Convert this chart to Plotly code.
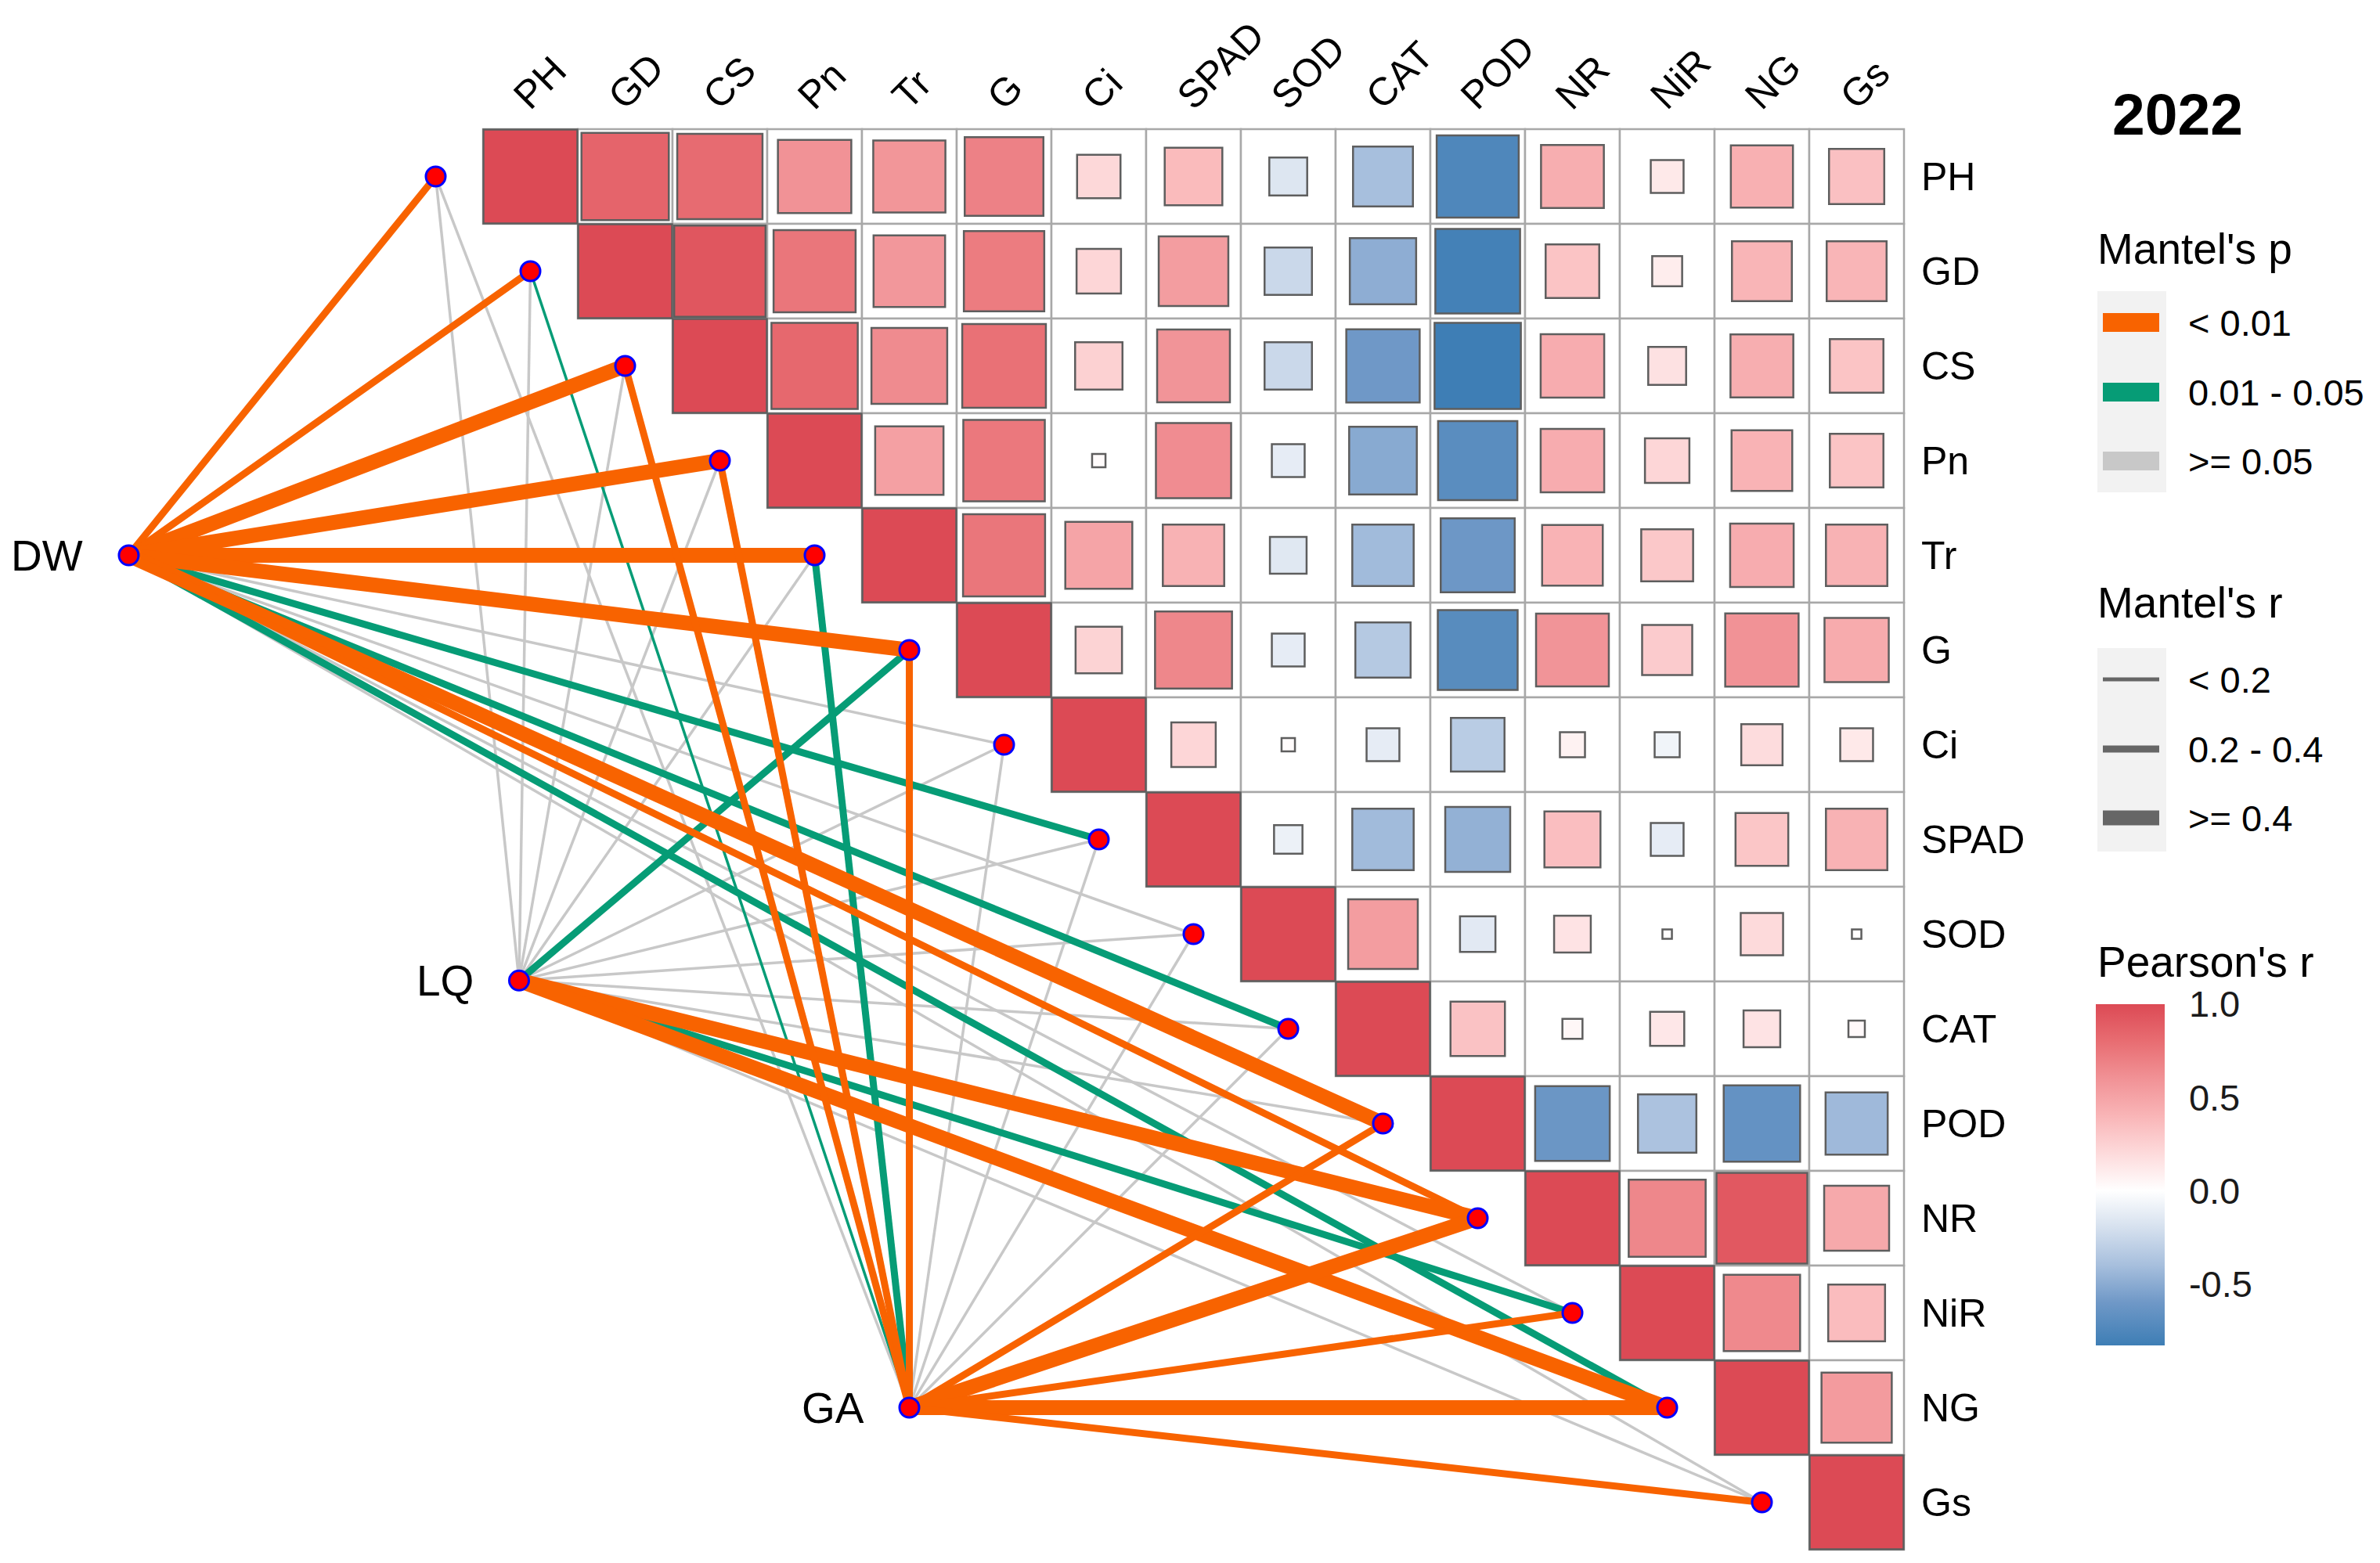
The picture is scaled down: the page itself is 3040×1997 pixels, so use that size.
import numpy as np
import plotly.graph_objects as go

# ---------------- data ----------------
variables = ["PH", "GD", "CS", "Pn", "Tr", "G", "Ci", "SPAD", "SOD", "CAT",
             "POD", "NR", "NiR", "NG", "Gs"]

# Pearson's r, upper triangle: row k lists r with the variables after it
r_PH = [0.85, 0.81, 0.60, 0.58, 0.69, 0.21, 0.37, -0.16, -0.40, -0.75, 0.44, 0.12, 0.43, 0.34]
r_GD = [0.93, 0.75, 0.57, 0.72, 0.22, 0.54, -0.25, -0.49, -0.80, 0.32, 0.10, 0.40, 0.40]
r_CS = [0.83, 0.64, 0.78, 0.25, 0.59, -0.25, -0.60, -0.83, 0.45, 0.16, 0.44, 0.32]
r_Pn = [0.52, 0.74, 0.02, 0.63, -0.12, -0.51, -0.70, 0.45, 0.22, 0.41, 0.32]
r_Tr = [0.75, 0.50, 0.42, -0.15, -0.42, -0.61, 0.41, 0.30, 0.45, 0.42]
r_G = [0.24, 0.66, -0.12, -0.34, -0.71, 0.59, 0.28, 0.60, 0.46]
r_Ci = [0.22, 0.02, -0.12, -0.32, 0.07, -0.07, 0.19, 0.12]
r_SPAD = [-0.09, -0.42, -0.47, 0.35, -0.12, 0.31, 0.42]
r_SOD = [0.54, -0.14, 0.15, 0.01, 0.20, 0.01]
r_CAT = [0.33, 0.045, 0.13, 0.15, 0.03]
r_POD = [-0.62, -0.38, -0.65, -0.43]
r_NR = [0.66, 0.92, 0.47]
r_NiR = [0.65, 0.36]
r_NG = [0.55]
upper_rows = [r_PH, r_GD, r_CS, r_Pn, r_Tr, r_G, r_Ci, r_SPAD, r_SOD, r_CAT,
              r_POD, r_NR, r_NiR, r_NG]

env_vars = ["DW", "LQ", "GA"]
# Mantel's r / p of each environmental variable with each variable above
mantel_r_DW = [0.32, 0.30, 0.45, 0.47, 0.48, 0.46, 0.08, 0.28, 0.10, 0.26, 0.44, 0.33, 0.12, 0.27, 0.09]
mantel_p_DW = [0.001, 0.002, 0.001, 0.001, 0.001, 0.001, 0.21, 0.02, 0.15, 0.03, 0.001, 0.004, 0.09, 0.02, 0.18]
mantel_r_LQ = [0.05, 0.06, 0.04, 0.07, 0.08, 0.25, 0.05, 0.03, 0.06, 0.07, 0.09, 0.42, 0.27, 0.43, 0.06]
mantel_p_LQ = [0.45, 0.38, 0.52, 0.33, 0.29, 0.03, 0.41, 0.60, 0.37, 0.31, 0.22, 0.001, 0.02, 0.001, 0.35]
mantel_r_GA = [0.04, 0.15, 0.33, 0.31, 0.29, 0.30, 0.06, 0.05, 0.08, 0.07, 0.30, 0.44, 0.31, 0.47, 0.32]
mantel_p_GA = [0.40, 0.04, 0.003, 0.004, 0.02, 0.002, 0.36, 0.44, 0.27, 0.30, 0.005, 0.001, 0.006, 0.001, 0.003]
mantel_r = [mantel_r_DW, mantel_r_LQ, mantel_r_GA]
mantel_p = [mantel_p_DW, mantel_p_LQ, mantel_p_GA]

p_labels = ["< 0.01", "0.01 - 0.05", ">= 0.05"]
r_labels = ["< 0.2", "0.2 - 0.4", ">= 0.4"]
cbar_ticks = [-0.5, 0.0, 0.5, 1.0]
year_title = "2022"

# ---------------- layout constants ----------------
PAGE_W, PAGE_H = 3040, 1997
OFF = 8                        # default body margin of the html page
W, H = PAGE_W - 2 * OFF, PAGE_H - 2 * OFF
CELL = 121.0
X0 = 617 + CELL / 2 - OFF      # figure-pixel x of first column centre
Y0 = 165 + CELL / 2 - OFF      # figure-pixel y of first row centre
FONT = "Liberation Sans, Arial, sans-serif"

# anchor positions (grid units) of the environmental nodes
env_pos = {"DW": (-4.24, 4.0), "LQ": (-0.12, 8.49), "GA": (4.0, 13.0)}

P_COLORS = ["#F86300", "#069C76", "#C8C8C8"]
R_WIDTHS = [3.5, 9, 19]
R_KEY_WIDTHS = [5, 9, 19]

def p_class(p):
    return 0 if p < 0.01 else (1 if p < 0.05 else 2)

def r_class(r):
    return 0 if r < 0.2 else (1 if r < 0.4 else 2)

def pp(px, py):
    """page pixel -> paper coordinates"""
    return (px - OFF) / W, 1 - (py - OFF) / H

n = len(variables)
CMIN, CMAX = -0.83, 1.0
stops = [(-0.83, "#3E7EB5"), (-0.6, "#6F98C7"), (-0.4, "#A7BFDD"), (-0.2, "#D5E0EE"),
         (0.0, "#FFFFFF"), (0.2, "#FDDADB"), (0.4, "#F9B5B7"), (0.6, "#F19296"),
         (0.8, "#E86D72"), (1.0, "#DC4A55")]
colorscale = [[(v - CMIN) / (CMAX - CMIN), c] for v, c in stops]

fig = go.Figure()

# grid cells (upper triangle incl. diagonal)
shapes = []
for i in range(n):
    for j in range(i, n):
        shapes.append(dict(type="rect", xref="x", yref="y",
                           x0=j - 0.5, x1=j + 0.5, y0=i - 0.5, y1=i + 0.5,
                           line=dict(color="#A8A8A8", width=2.5),
                           fillcolor="white", layer="below"))

# Mantel links: grey first, then coloured
links = []
for e, env in enumerate(env_vars):
    for i, var in enumerate(variables):
        links.append((p_class(mantel_p[e][i]), env, i, mantel_r[e][i], mantel_p[e][i]))
links.sort(key=lambda t: -t[0])
for pc, env, i, r, p in links:
    ex, ey = env_pos[env]
    fig.add_trace(go.Scatter(
        x=[ex, i - 1], y=[ey, i], mode="lines",
        line=dict(color=P_COLORS[pc], width=R_WIDTHS[r_class(r)]),
        hoverinfo="skip", showlegend=False))

# correlation squares
sx, sy, sr = [], [], []
for i in range(n):
    sx.append(i); sy.append(i); sr.append(1.0)
for i, row in enumerate(upper_rows):
    for k, v in enumerate(row):
        sx.append(i + 1 + k); sy.append(i); sr.append(v)
sizes = [CELL * np.sqrt(abs(v)) - (1 if abs(v) >= 0.999 else 0) for v in sr]

CB_TOP, CB_BOT, CB_L, CB_R = 1283, 1719, 2677, 2765
fig.add_trace(go.Scatter(
    x=sx, y=sy, mode="markers",
    marker=dict(symbol="square", size=sizes, color=sr, colorscale=colorscale,
                cmin=CMIN, cmax=CMAX, opacity=1,
                line=dict(color="#5E5E5E", width=2.5),
                colorbar=dict(x=pp(CB_L, 0)[0], xanchor="left", xpad=0,
                              y=pp(0, (CB_TOP + CB_BOT) / 2)[1], yanchor="middle", ypad=0,
                              len=CB_BOT - CB_TOP, lenmode="pixels",
                              thickness=CB_R - CB_L, thicknessmode="pixels",
                              outlinewidth=0, tickvals=cbar_ticks,
                              ticktext=[f"{t:.1f}" for t in cbar_ticks],
                              ticks="outside", ticklen=22, tickwidth=1,
                              tickcolor="rgba(0,0,0,0)",
                              tickfont=dict(size=47, color="#1A1A1A", family=FONT))),
    hoverinfo="skip", showlegend=False))

# nodes
fig.add_trace(go.Scatter(
    x=[i - 1 for i in range(n)] + [env_pos[e][0] for e in env_vars],
    y=[i for i in range(n)] + [env_pos[e][1] for e in env_vars],
    mode="markers",
    marker=dict(size=25, color="#FF0000", opacity=1,
                line=dict(color="#0000FF", width=3)),
    hoverinfo="skip", showlegend=False))

ann = []
# column labels
for j, v in enumerate(variables):
    ann.append(dict(x=j - 0.29, y=-0.5 - 12 / CELL, xref="x", yref="y", text=v,
                    textangle=-45, showarrow=False, xanchor="left", yanchor="bottom",
                    font=dict(size=50, color="black", family=FONT)))
# row labels
for i, v in enumerate(variables):
    ann.append(dict(x=n - 0.5 + 20 / CELL, y=i, xref="x", yref="y", text=v,
                    showarrow=False, xanchor="left", yanchor="middle",
                    font=dict(size=50, color="black", family=FONT)))
# env labels
for e in env_vars:
    ex, ey = env_pos[e]
    ann.append(dict(x=ex - 56 / CELL, y=ey, xref="x", yref="y", text=e,
                    showarrow=False, xanchor="right", yanchor="middle",
                    font=dict(size=55, color="black", family=FONT)))

def text_px(px, py, txt, size, bold=False, xanchor="left"):
    x, y = pp(px, py)
    ann.append(dict(x=x, y=y, xref="paper", yref="paper",
                    text=f"<b>{txt}</b>" if bold else txt,
                    showarrow=False, xanchor=xanchor, yanchor="middle",
                    font=dict(size=size, color="black", family=FONT)))

def rect_px(x0, y0, x1, y1, color):
    a0, b0 = pp(x0, y0); a1, b1 = pp(x1, y1)
    shapes.append(dict(type="rect", xref="paper", yref="paper",
                       x0=a0, x1=a1, y0=b1, y1=b0, fillcolor=color,
                       line=dict(width=0), layer="above"))

def line_px(x0, x1, y, color, width):
    a0, b = pp(x0, y); a1, _ = pp(x1, y)
    shapes.append(dict(type="line", xref="paper", yref="paper",
                       x0=a0, x1=a1, y0=b, y1=b,
                       line=dict(color=color, width=width), layer="above"))

text_px(2781, 146, year_title, 75, bold=True, xanchor="center")

# Mantel's p legend
text_px(2677, 318, "Mantel's p", 55)
rect_px(2679, 372, 2767, 629, "#F2F2F2")
for k, yk in enumerate([412, 501, 589]):
    line_px(2686, 2758, yk, P_COLORS[k], 24)
    text_px(2793, yk, p_labels[k], 47)

# Mantel's r legend
text_px(2677, 770, "Mantel's r", 55)
rect_px(2679, 828, 2767, 1088, "#F2F2F2")
for k, yk in enumerate([868, 957, 1045]):
    line_px(2686, 2758, yk, "#666666", R_KEY_WIDTHS[k])
    text_px(2793, yk, r_labels[k], 47)

# Pearson's r title and white colourbar ticks
text_px(2677, 1229, "Pearson's r", 55)
for t in cbar_ticks:
    yt = CB_TOP + (CMAX - t) / (CMAX - CMIN) * (CB_BOT - CB_TOP)
    line_px(CB_L, CB_L + 17, yt, "white", 2)
    line_px(CB_R - 17, CB_R, yt, "white", 2)

fig.update_layout(
    width=W, height=H, margin=dict(l=0, r=0, t=0, b=0),
    paper_bgcolor="white", plot_bgcolor="white",
    xaxis=dict(range=[-X0 / CELL, (W - X0) / CELL], visible=False, fixedrange=True),
    yaxis=dict(range=[(H - Y0) / CELL, -Y0 / CELL], visible=False, fixedrange=True),
    shapes=shapes, annotations=ann, showlegend=False)

fig.write_html("out.html")
